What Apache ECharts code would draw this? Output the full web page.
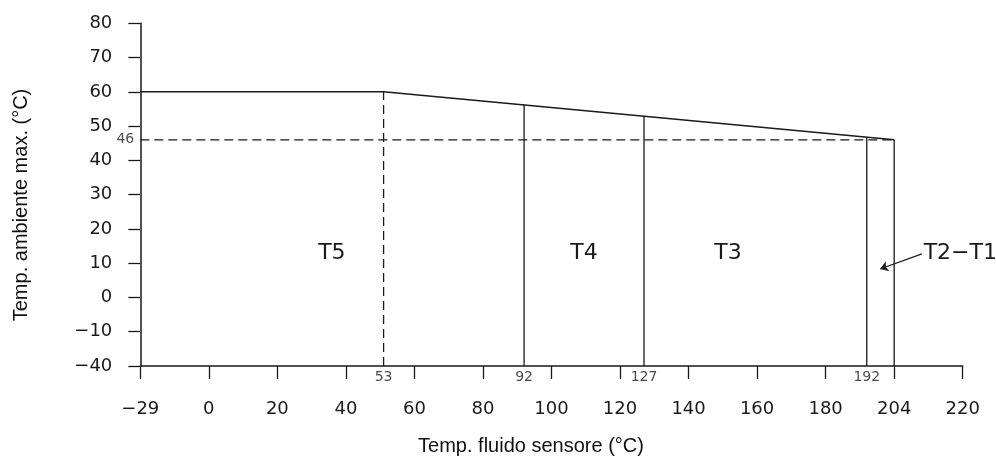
<!DOCTYPE html>
<html>
<head>
<meta charset="utf-8">
<script src="https://cdn.jsdelivr.net/npm/echarts@6/dist/echarts.min.js"></script>
<style>
html,body{margin:0;padding:0;background:#fff;}
#c{width:996px;height:460px;}
</style>
</head>
<body>
<div id="c"></div>
<script>
// ---- data (axis units as drawn in the schematic) ----
var xTickValues = [-20, 0, 20, 40, 60, 80, 100, 120, 140, 160, 180, 200, 220];
var xTickLabels = ['\u221229', '0', '20', '40', '60', '80', '100', '120', '140', '160', '180', '204', '220'];
var yTickValues = [-20, -10, 0, 10, 20, 30, 40, 50, 60, 70, 80];
var yTickLabels = ['\u221240', '\u221210', '0', '10', '20', '30', '40', '50', '60', '70', '80'];

var limitX = [-20, 51, 200];
var limitY = [60, 60, 46];

var boundaryX = [51, 92, 127, 192, 200];
var boundaryTop = [60, 56.3, 53, 46.6, 46];
var boundaryLabels = ['53', '92', '127', '192', ''];
var boundaryDashed = [true, false, false, false, false];

var refLevel = 46;
var refLabel = '46';

var zoneNames = ['T5', 'T4', 'T3', 'T2\u2212T1'];
var zoneX = [35.9, 109.5, 151.5, 208.6];
var zoneY = [12.8, 12.8, 12.8, 12.8];

var arrowFrom = [208.1, 12.7];
var arrowTo = [195.9, 8.3];

var xTitle = 'Temp. fluido sensore (\u00b0C)';
var yTitle = 'Temp. ambiente max. (\u00b0C)';

// ---- build ----
var INK = '#1a1a1a';
var CAD = '"DejaVu Sans", sans-serif';
function lbl(arrV, arrL) {
  return function (v) { var i = arrV.indexOf(v); return i >= 0 ? arrL[i] : ''; };
}

var series = [];
series.push({
  type: 'line', data: limitX.map(function (x, i) { return [x, limitY[i]]; }),
  symbol: 'none', lineStyle: { color: INK, width: 1.5 }, silent: true, z: 3
});
series.push({
  type: 'line', data: [[xTickValues[0], refLevel], [boundaryX[boundaryX.length - 1], refLevel]],
  symbol: 'none', lineStyle: { color: INK, width: 1.3, type: [9, 5] }, silent: true, z: 2
});
boundaryX.forEach(function (bx, i) {
  series.push({
    type: 'line', data: [[bx, yTickValues[0]], [bx, boundaryTop[i]]],
    symbol: 'none', silent: true, z: 3,
    lineStyle: { color: INK, width: 1.3, type: boundaryDashed[i] ? [9, 5] : 'solid' }
  });
});
series.push({
  type: 'scatter', silent: true, symbolSize: 0.1, itemStyle: { color: 'rgba(0,0,0,0)' },
  data: boundaryX.map(function (bx, i) { return { value: [bx, yTickValues[0]], name: boundaryLabels[i] }; }),
  label: { show: true, position: 'bottom', distance: 4, color: INK, fontFamily: CAD, fontSize: 14,
    formatter: function (p) { return p.name; } }
});
series.push({
  type: 'scatter', silent: true, symbolSize: 0.1, itemStyle: { color: 'rgba(0,0,0,0)' },
  data: [{ value: [xTickValues[0], refLevel], name: refLabel }],
  label: { show: true, position: 'left', distance: 6, color: INK, fontFamily: CAD, fontSize: 14,
    formatter: function (p) { return p.name; } }
});
series.push({
  type: 'scatter', silent: true, symbolSize: 0.1, itemStyle: { color: INK, opacity: 1 },
  data: zoneNames.map(function (n, i) { return { value: [zoneX[i], zoneY[i]], name: n }; }),
  label: { show: true, position: 'inside', color: INK, opacity: 1, fontFamily: CAD, fontSize: 22,
    formatter: function (p) { return p.name; },
    align: 'center' },
  labelLayout: function (p) {
    return p.dataIndex === zoneNames.length - 1 ? { align: 'left' } : {};
  }
});
series.push({
  type: 'lines', coordinateSystem: 'cartesian2d', silent: true, z: 4,
  symbol: ['none', 'arrow'], symbolSize: [0, 8],
  lineStyle: { color: INK, width: 1.2, opacity: 1 },
  data: [{ coords: [arrowFrom, arrowTo] }]
});

var chart = echarts.init(document.getElementById('c'), null, { renderer: 'canvas' });
chart.setOption({
  animation: false,
  backgroundColor: '#fff',
  grid: { left: 140.3, right: 33.3, top: 23.3, bottom: 94, containLabel: false },
  xAxis: {
    type: 'value', min: -20, max: 220, interval: 20,
    axisLine: { onZero: false, lineStyle: { color: INK, width: 1.5 } },
    axisTick: { show: true, length: 13, lineStyle: { color: INK, width: 1.3 } },
    splitLine: { show: false },
    axisLabel: { margin: 34, color: INK, fontFamily: CAD, fontSize: 18,
      formatter: lbl(xTickValues, xTickLabels) }
  },
  yAxis: {
    type: 'value', min: -20, max: 80, interval: 10,
    axisLine: { onZero: false, lineStyle: { color: INK, width: 1.5 } },
    axisTick: { show: true, length: 12, lineStyle: { color: INK, width: 1.3 } },
    splitLine: { show: false },
    axisLabel: { margin: 28, color: INK, fontFamily: CAD, fontSize: 18,
      formatter: lbl(yTickValues, yTickLabels) }
  },
  graphic: [
    { type: 'text', x: 531, y: 446, style: { text: xTitle, fill: '#111', font: '20px "Liberation Sans", Arial, sans-serif', align: 'center', verticalAlign: 'middle' } },
    { type: 'text', x: 21, y: 205, rotation: Math.PI / 2, style: { text: yTitle, fill: '#111', font: '20px "Liberation Sans", Arial, sans-serif', align: 'center', verticalAlign: 'middle' } }
  ],
  series: series
});
</script>
</body>
</html>
